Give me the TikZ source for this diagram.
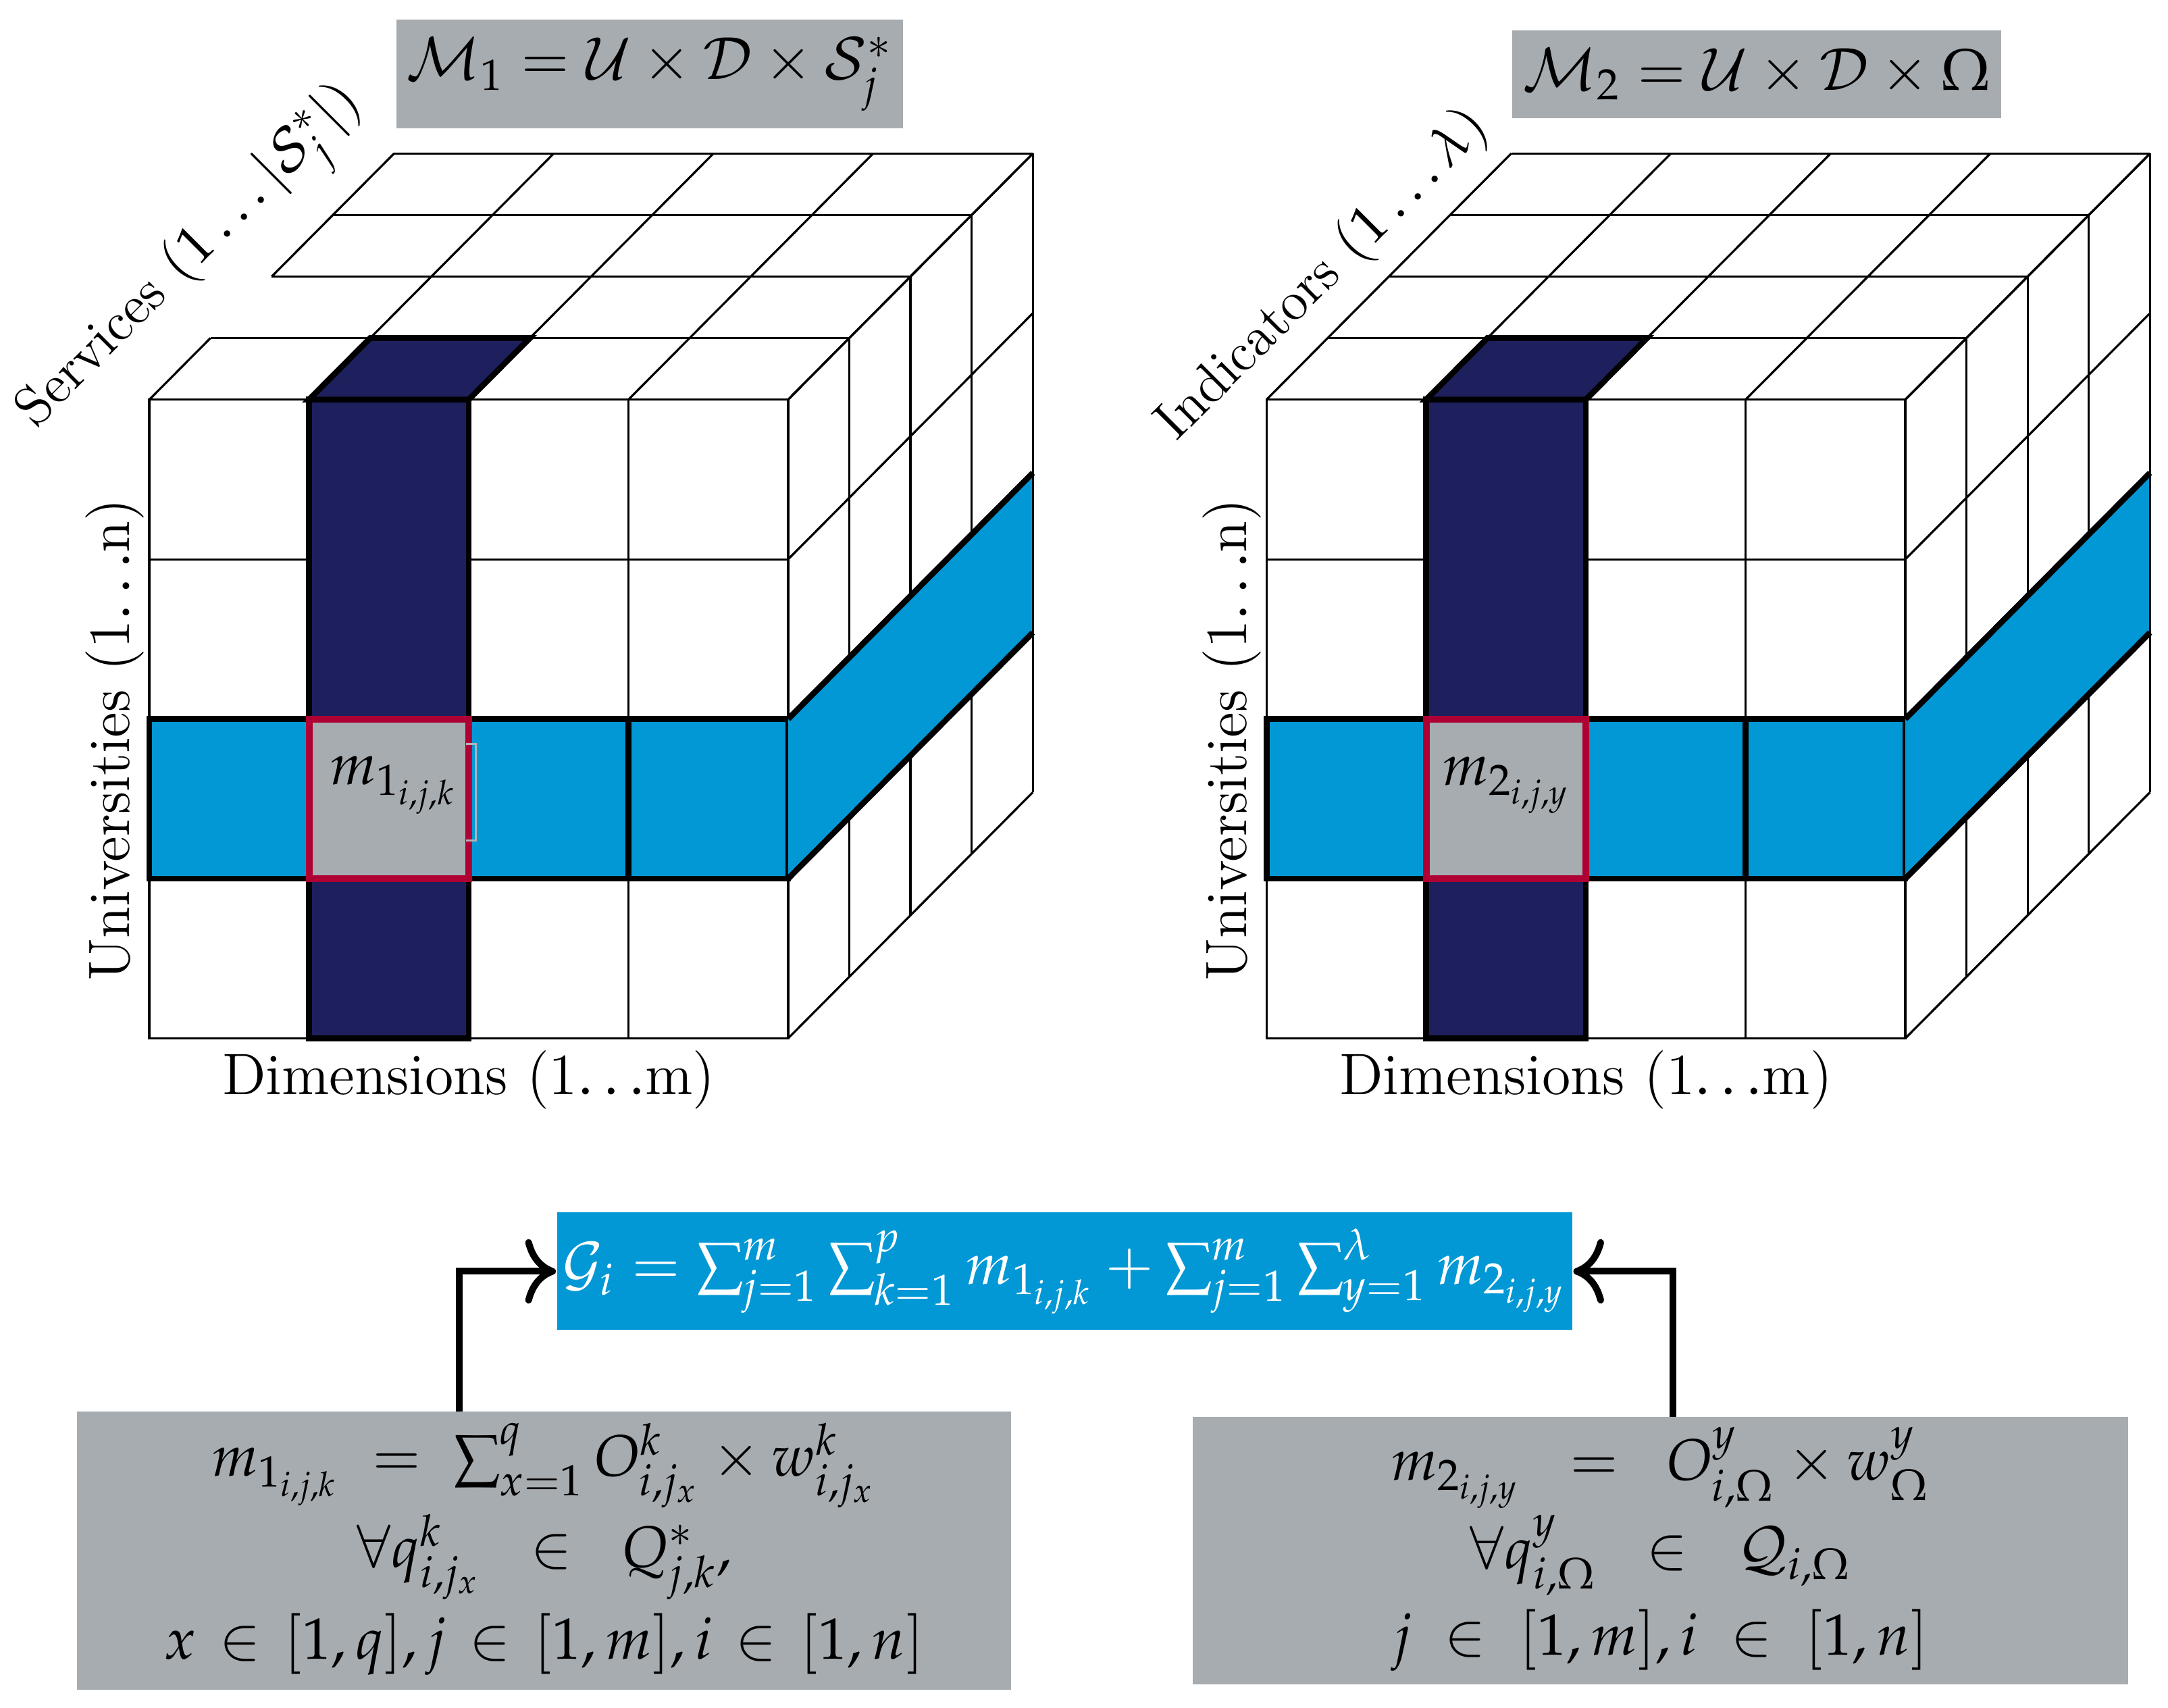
\documentclass[tikz,border=0pt]{standalone}
\usepackage{mathpazo}
\usepackage{amsmath}
\usetikzlibrary{arrows.meta}
\definecolor{navy}{RGB}{30,32,94}
\definecolor{band}{RGB}{2,152,213}
\definecolor{boxgray}{RGB}{167,172,176}
\definecolor{crimson}{RGB}{174,0,51}
\begin{document}
\begin{tikzpicture}
            [x=0.01cm,y=-0.01cm,>={To[scale=1.35]},
             grid/.style={line width=0.45pt},
             bold/.style={line width=1.2pt},
             graybox/.style={fill=boxgray,inner sep=0pt},
             slanted label/.style={rotate=45,font=\fontsize{11.3}{13}\selectfont},
             every node/.style={font=\fontsize{12}{14}\selectfont}]
            \useasboundingbox (0,0) rectangle (1568,1235);

            % the two cubes
            \foreach \x in {108,916} {
              \foreach \d in {0,...,4} \draw[grid] (\x+\d*44.25,289-\d*44.5) -- ++(462,0);
              \foreach \c in {1,...,4} \draw[grid] (\x+\c*115.5,289) -- ++(177,-178);
              \foreach \d in {1,...,4} \draw[grid] (\x+462+\d*44.25,289-\d*44.5) -- ++(0,462);
              \foreach \r in {0,...,4} \draw[grid] (\x+462,289+\r*115.5) -- ++(177,-178);
              \foreach \c in {0,...,3}
                \foreach \r in {0,...,3}
                  \draw[grid,fill=white] (\x+\c*115.5,289+\r*115.5) rectangle ++(115.5,115.5);
              \draw[bold,fill=navy] (\x+115.5,289) rectangle ++(115.5,462);
              \draw[bold,fill=navy] (\x+115.5,289) -- ++(115.5,0) -- ++(44.25,-44.5) -- ++(-115.5,0) -- cycle;
              \foreach \c in {0,...,3} \draw[bold,fill=band] (\x+\c*115.5,520) rectangle ++(115.5,115.5);
              \fill[band] (\x+462,520) -- ++(177,-178) -- ++(0,115.5) -- ++(-177,178) -- cycle;
              \draw[bold] (\x+462,520) -- ++(177,-178);
              \draw[bold] (\x+462,635.5) -- ++(177,-178);
              \draw[grid] (\x+639,342) -- ++(0,115.5);
              \draw[line width=1.4pt,draw=crimson,fill=boxgray] (\x+115.5,520) rectangle ++(115.5,115.5);
            }
            % left edge of the top faces
            \draw[grid] (108,289) -- ++(44.25,-44.5);
            \draw[grid] (196.5,200) -- ++(88.5,-89);
            \draw[grid] (916,289) -- ++(177,-178);
            \draw[gray!60,line width=0.4pt] (337,538) -- (344,538) -- (344,608) -- (337,608);

            \node (mone) at (285,568) {$m_{1_{i,j,k}}$};
            \node (mtwo) at (1090,568) {$m_{2_{i,j,y}}$};
            \node (dimone) at (339,781) {Dimensions (1$\ldots$m)};
            \node (dimtwo) at (1147,781) {Dimensions (1$\ldots$m)};
            \node[rotate=90] (unione) at (83,535) {Universities (1$\ldots$n)};
            \node[rotate=90] (unitwo) at (891,535) {Universities (1$\ldots$n)};
            \node[slanted label] (serv) at (141,189) {Services $(1\ldots|\mathcal{S}_j^*|)$};
            \node[slanted label] (indic) at (957,199) {Indicators $(1\ldots\lambda)$};

            \node[graybox,minimum width=3.66cm,minimum height=0.79cm] (Mone) at (470,53.5)
              {$\mathcal{M}_1=\mathcal{U}\times\mathcal{D}\times\mathcal{S}_j^*$};
            \node[graybox,minimum width=3.53cm,minimum height=0.635cm] (Mtwo) at (1270.5,53.75)
              {$\mathcal{M}_2=\mathcal{U}\times\mathcal{D}\times\Omega$};

            % aggregation
            \node[fill=band,text=white,inner sep=0pt,minimum width=7.34cm,minimum height=0.85cm] (G) at (770,919.5)
              {$\mathcal{G}_i=\sum_{j=1}^{m}\sum_{k=1}^{p}m_{1_{i,j,k}}+\sum_{j=1}^{m}\sum_{y=1}^{\lambda}m_{2_{i,j,y}}$};
            \node[graybox,minimum width=6.75cm,minimum height=2.01cm] (lbox) at (393.5,1121.5)
              {$\renewcommand{\arraystretch}{1.25}\begin{array}{c}
                m_{1_{i,j,k}}\;=\;\sum_{x=1}^{q}O_{i,j_x}^{k}\times w_{i,j_x}^{k}\\
                \forall q_{i,j_x}^{k}\;\;\in\;\;Q_{j,k}^{*},\\
                x\mkern2mu\in\mkern2mu[1,q],j\mkern2mu\in\mkern2mu[1,m],i\mkern2mu\in\mkern2mu[1,n]
              \end{array}$};
            \node[graybox,minimum width=6.76cm,minimum height=1.93cm] (rbox) at (1201,1121.5)
              {$\renewcommand{\arraystretch}{1.25}\begin{array}{c}
                m_{2_{i,j,y}}\;\;=\;\;O_{i,\Omega}^{y}\times w_{\Omega}^{y}\\
                \forall q_{i,\Omega}^{y}\;\;\in\;\;\mathcal{Q}_{i,\Omega}\\
                j\;\in\;[1,m],i\;\in\;[1,n]
              \end{array}$};
            \coordinate (la) at (332,1021);
            \coordinate (ra) at (1210,1025);
            \draw[->,line width=1.4pt] (la) |- (G.west);
            \draw[->,line width=1.4pt] (ra) |- (G.east);
        \end{tikzpicture}
\end{document}
